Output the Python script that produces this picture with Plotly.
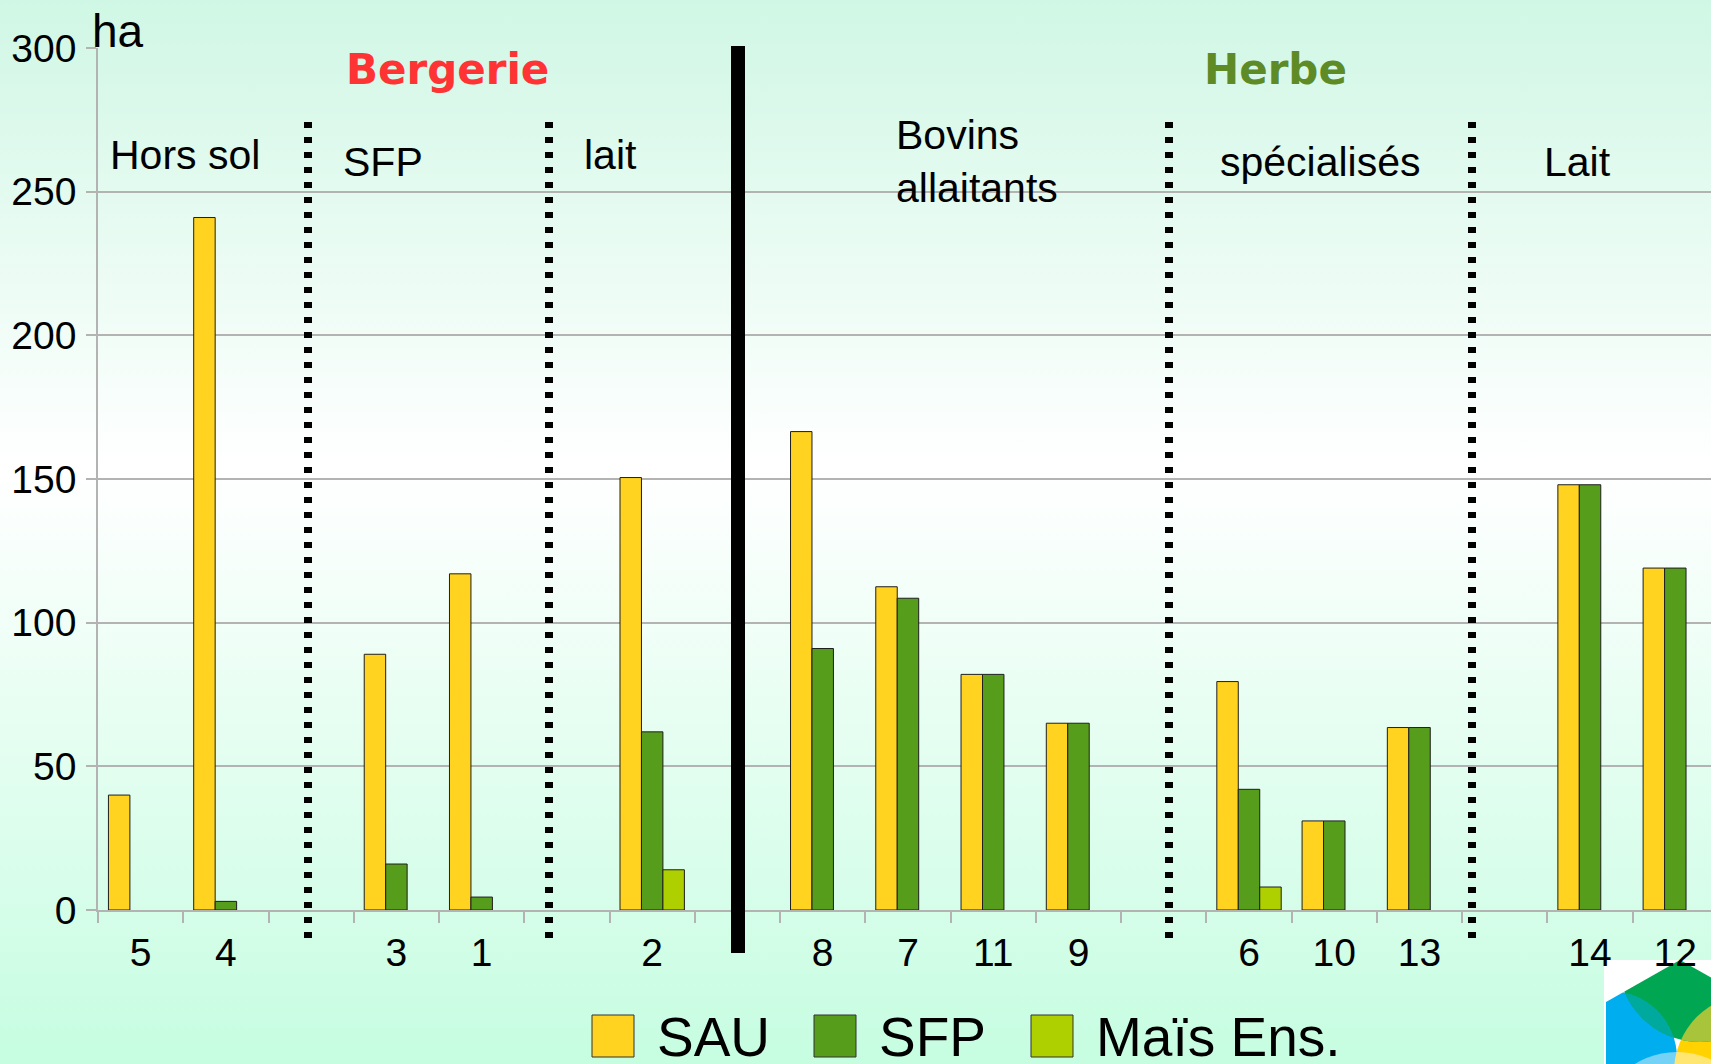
import base64
import plotly.graph_objects as go

# ---------------- data ----------------
categories = ["5", "4", "", "3", "1", "", "2", "", "8", "7", "11", "9", "", "6", "10", "13", "", "14", "12"]
sau = [40, 241, None, 89, 117, None, 150.5, None, 166.5, 112.5, 82, 65, None, 79.5, 31, 63.5, None, 148, 119]
sfp = [None, 3, None, 16, 4.5, None, 62, None, 91, 108.5, 82, 65, None, 42, 31, 63.5, None, 148, 119]
mais = [None, None, None, None, None, None, 14, None, None, None, None, None, None, 8, None, None, None, None, None]
series_names = ["SAU", "SFP", "Maïs Ens."]
series_colors = ["#FFD320", "#579D1C", "#AECF00"]
y_ticks = [0, 50, 100, 150, 200, 250, 300]

# ---------------- geometry helpers (pixels -> paper) ----------------
W, H = 1711, 1064
L, T, B = 98, 48, 910          # plot area left, top, bottom (px)
PW, PH = W - L, B - T


def X(px):
    return (px - L) / PW


def Y(py):
    return (B - py) / PH


FONT = "Liberation Sans, Arial, sans-serif"
BOLD = "DejaVu Sans, Verdana, sans-serif"

xpos = list(range(len(categories)))

fig = go.Figure()
for name, vals, col in zip(series_names, [sau, sfp, mais], series_colors):
    fig.add_trace(go.Bar(
        x=xpos, y=vals, name=name, showlegend=False,
        marker=dict(color=col, line=dict(color="#1e1e1e", width=1)),
    ))


def svg_uri(s):
    return "data:image/svg+xml;base64," + base64.b64encode(s.encode("utf-8")).decode("ascii")


# ---------------- background gradient (decoration) ----------------
bg_svg = """<svg xmlns='http://www.w3.org/2000/svg' viewBox='0 0 1711 1064' width='1711' height='1064' preserveAspectRatio='none'>
<defs><linearGradient id='g' x1='0' y1='0' x2='0' y2='1'>
<stop offset='0' stop-color='#d0f7e5'/><stop offset='0.44' stop-color='#ffffff'/><stop offset='1' stop-color='#c6fde1'/>
</linearGradient></defs>
<rect x='0' y='0' width='1711' height='1064' fill='url(#g)'/>
</svg>"""

# ---------------- logo (decoration) ----------------
logo_svg = """<svg xmlns='http://www.w3.org/2000/svg' viewBox='1604 960 107 104' width='107' height='104' preserveAspectRatio='none'>
<defs>
<clipPath id='h'><polygon points='1680,960 1754,1002 1754,1088 1680,1130 1606,1088 1606,1002'/></clipPath>
<clipPath id='cg'><circle cx='1700' cy='960' r='82'/></clipPath>
</defs>
<rect x='1604' y='960' width='107' height='104' fill='#ffffff'/>
<g clip-path='url(#h)'>
<circle cx='1610' cy='1058' r='67' fill='#00aeef'/>
<circle cx='1752' cy='1072' r='78' fill='#ffd200'/>
<circle cx='1677' cy='1132' r='80' fill='#ffffff' fill-opacity='0.45'/>
<circle cx='1700' cy='960' r='82' fill='#00a651'/>
<g clip-path='url(#cg)'>
<circle cx='1610' cy='1058' r='67' fill='#00a99d'/>
<circle cx='1752' cy='1072' r='78' fill='#a8c43a'/>
</g>
</g>
</svg>"""

images = [
    dict(source=svg_uri(bg_svg), xref="paper", yref="paper", x=X(0), y=Y(0),
         sizex=W / PW, sizey=H / PH, xanchor="left", yanchor="top",
         sizing="stretch", layer="below"),
    dict(source=svg_uri(logo_svg), xref="paper", yref="paper", x=X(1604), y=Y(960),
         sizex=107 / PW, sizey=104 / PH, xanchor="left", yanchor="top",
         sizing="stretch", layer="below"),
]

shapes = []
# ---------------- separators ----------------
for px in [308, 549, 1169, 1472]:
    shapes.append(dict(type="line", xref="paper", yref="paper", layer="above",
                       x0=X(px), x1=X(px), y0=Y(122), y1=Y(945),
                       line=dict(color="black", width=8, dash="6px,9px")))
shapes.append(dict(type="line", xref="paper", yref="paper", layer="above",
                   x0=X(738), x1=X(738), y0=Y(46), y1=Y(953),
                   line=dict(color="black", width=14)))

# ---------------- manual legend ----------------
legend_items = [(592, 658), (814, 880), (1031, 1097)]
annotations = []
for (sx, tx), name, col in zip(legend_items, series_names, series_colors):
    shapes.append(dict(type="rect", xref="paper", yref="paper", layer="above",
                       x0=X(sx), x1=X(sx + 42), y0=Y(1057), y1=Y(1015),
                       fillcolor=col, line=dict(color="#333333", width=1)))
    annotations.append(dict(text=name, xref="paper", yref="paper", x=X(tx - 3), y=Y(1037),
                            xanchor="left", yanchor="middle", showarrow=False,
                            font=dict(family=FONT, size=55, color="black")))

# ---------------- texts ----------------
def txt(t, x, y, size=41, color="black", family=FONT, xanchor="center", align="center"):
    annotations.append(dict(text=t, xref="paper", yref="paper", x=X(x), y=Y(y),
                            xanchor=xanchor, yanchor="middle", showarrow=False, align=align,
                            font=dict(family=family, size=size, color=color)))


txt("ha", 90, 31, size=46, xanchor="left")
txt("<b>Bergerie</b>", 447, 70, size=42, color="#FF3333", family=BOLD)
txt("<b>Herbe</b>", 1275, 70, size=42, color="#5E8B26", family=BOLD)
txt("Hors sol", 185, 155)
txt("SFP", 383, 162)
txt("lait", 610, 155)
txt("Bovins<br>allaitants", 894, 162, xanchor="left", align="left")
txt("spécialisés", 1320, 162)
txt("Lait", 1577, 162)

fig.update_layout(
    width=W, height=H,
    margin=dict(l=L, r=0, t=T, b=H - B, pad=0),
    paper_bgcolor="rgba(0,0,0,0)", plot_bgcolor="rgba(0,0,0,0)",
    barmode="group", bargap=0.245, bargroupgap=0,
    font=dict(family=FONT, color="black"),
    shapes=shapes, annotations=annotations, images=images,
    xaxis=dict(
        range=[-0.5, -0.5 + PW / 85.26],
        tickmode="array",
        tickvals=[i for i, c in enumerate(categories) if c],
        ticktext=[c for c in categories if c],
        ticks="", showgrid=False, zeroline=False,
        showline=True, linecolor="#b3b3b3", linewidth=1.5,
        tickfont=dict(family=FONT, size=39, color="black"),
        ticklabelstandoff=7,
        minor=dict(tickmode="array", tickvals=[i - 0.5 for i in range(len(categories) + 1)],
                   ticks="outside", ticklen=11, tickcolor="#b3b3b3", tickwidth=1.5, showgrid=False),
    ),
    yaxis=dict(
        range=[0, 300], tickmode="array", tickvals=y_ticks,
        showgrid=True, gridcolor="#b3b3b3", gridwidth=1.5, zeroline=False,
        showline=True, linecolor="#b3b3b3", linewidth=1.5,
        ticks="outside", ticklen=10, tickcolor="#b3b3b3", tickwidth=1.5,
        tickfont=dict(family=FONT, size=39, color="black"),
        ticklabelstandoff=2,
    ),
)

fig.write_html("out.html", config={"displayModeBar": False},
               post_script="document.body.style.margin='0';document.body.style.overflow='hidden';")
